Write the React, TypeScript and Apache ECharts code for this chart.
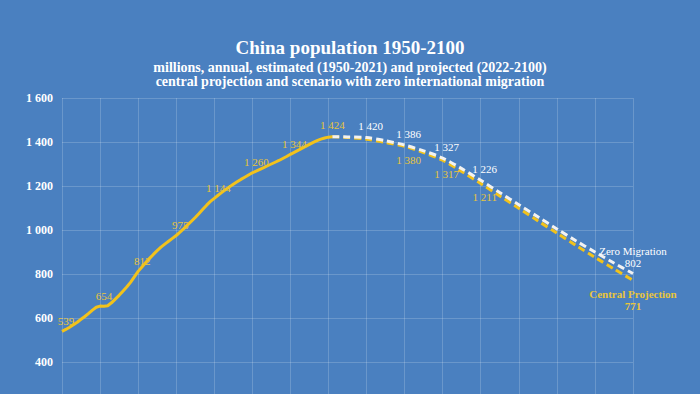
import React, { useEffect, useRef } from "react";
import * as echarts from "echarts";

const histYears: number[] = [
  1950, 1951, 1952, 1953, 1954, 1955, 1956, 1957, 1958, 1959,
  1960, 1961, 1962, 1963, 1964, 1965, 1966, 1967, 1968, 1969,
  1970, 1971, 1972, 1973, 1974, 1975, 1976, 1977, 1978, 1979,
  1980, 1981, 1982, 1983, 1984, 1985, 1986, 1987, 1988, 1989,
  1990, 1991, 1992, 1993, 1994, 1995, 1996, 1997, 1998, 1999,
  2000, 2001, 2002, 2003, 2004, 2005, 2006, 2007, 2008, 2009,
  2010, 2011, 2012, 2013, 2014, 2015, 2016, 2017, 2018, 2019,
  2020, 2021,
];
const histValues: number[] = [
  539, 548, 558, 569, 581, 594, 607, 621, 636, 649,
  654, 653, 656, 669, 686, 703, 722, 741, 762, 787,
  812, 832, 852, 871, 889, 906, 922, 936, 949, 962,
  975, 990, 1006, 1023, 1040, 1057, 1075, 1094, 1113, 1130,
  1144, 1158, 1171, 1184, 1196, 1208, 1219, 1230, 1240, 1250,
  1260, 1268, 1276, 1284, 1292, 1300, 1308, 1316, 1325, 1334,
  1344, 1353, 1362, 1371, 1380, 1389, 1398, 1406, 1413, 1418,
  1422, 1424,
];
const histLabelYears: number[] = [1950, 1960, 1970, 1980, 1990, 2000, 2010, 2021];

const projYears: number[] = [
  2021, 2025, 2030, 2035, 2040, 2045, 2050, 2055, 2060, 2065,
  2070, 2075, 2080, 2085, 2090, 2095, 2100,
];
const centralValues: number[] = [
  1424, 1421, 1413, 1398, 1380, 1352, 1317, 1266, 1211, 1155,
  1099, 1042, 986, 930, 876, 823, 771,
];
const zeroValues: number[] = [
  1424, 1423, 1420, 1406, 1386, 1360, 1327, 1279, 1226, 1170,
  1115, 1060, 1005, 951, 900, 850, 802,
];
const centralLabelYears: number[] = [2040, 2050, 2060];
const zeroLabelYears: number[] = [2030, 2040, 2050, 2060];

const yTicks = { min: 200, max: 1600, interval: 200 };

const BG = "#4a80c0";
const GOLD = "#f2c21b";
const GOLD_TEXT = "#e8c53c";
const FONT = "'Liberation Serif', 'DejaVu Serif', serif";

function fmt(v: number): string {
  if (v >= 1000) {
    return `${Math.floor(v / 1000)} ${String(v % 1000).padStart(3, "0")}`;
  }
  return String(v);
}

const hidden = {
  symbol: "circle",
  symbolSize: 0.1,
  itemStyle: { color: "rgba(0,0,0,0)", borderWidth: 0 },
};

export default function App() {
  const ref = useRef<HTMLDivElement>(null);

  useEffect(() => {
    if (!ref.current) return;
    const chart = echarts.init(ref.current, undefined, { renderer: "svg" });

    const histData = histYears.map((y, i) => {
      const v = histValues[i];
      if (histLabelYears.includes(y)) {
        return {
          value: [y, v],
          ...hidden,
          label: {
            show: true,
            position: "top",
            offset: y === 2021 ? [0, -1] : [4, 0],
            formatter: fmt(v),
            color: GOLD_TEXT,
            fontSize: 11,
            fontFamily: FONT,
          },
        };
      }
      return { value: [y, v], symbol: "none" };
    });

    const centralData = projYears.map((y, i) => {
      const v = centralValues[i];
      if (centralLabelYears.includes(y)) {
        return {
          value: [y, v],
          ...hidden,
          label: {
            show: true,
            position: "bottom",
            offset: [4, 3],
            formatter: fmt(v),
            color: GOLD_TEXT,
            fontSize: 11,
            fontFamily: FONT,
          },
        };
      }
      if (y === 2100) {
        return {
          value: [y, v],
          ...hidden,
          label: {
            show: true,
            position: "bottom",
            distance: 8,
            formatter: `Central Projection\n${fmt(v)}`,
            color: GOLD_TEXT,
            fontSize: 11,
            fontWeight: "bold",
            lineHeight: 12,
            fontFamily: FONT,
          },
        };
      }
      return { value: [y, v], symbol: "none" };
    });

    const zeroData = projYears.map((y, i) => {
      const v = zeroValues[i];
      if (zeroLabelYears.includes(y)) {
        return {
          value: [y, v],
          ...hidden,
          label: {
            show: true,
            position: "top",
            offset: [4, -1],
            formatter: fmt(v),
            color: "#ffffff",
            fontSize: 11,
            fontFamily: FONT,
          },
        };
      }
      if (y === 2100) {
        return {
          value: [y, v],
          ...hidden,
          label: {
            show: true,
            position: "top",
            distance: 5,
            formatter: `Zero Migration\n${fmt(v)}`,
            color: "#ffffff",
            fontSize: 11,
            lineHeight: 12,
            fontFamily: FONT,
          },
        };
      }
      return { value: [y, v], symbol: "none" };
    });

    chart.setOption({
      animation: false,
      backgroundColor: BG,
      textStyle: { fontFamily: FONT },
      title: [
        {
          text: "China population 1950-2100",
          left: "center",
          top: 33,
          textStyle: {
            color: "#ffffff",
            fontSize: 19,
            fontWeight: "bold",
            fontFamily: FONT,
          },
        },
        {
          text:
            "millions, annual, estimated (1950-2021) and projected (2022-2100)\ncentral projection and scenario with zero international migration",
          left: "center",
          top: 55,
          textStyle: {
            color: "#ffffff",
            fontSize: 14,
            fontWeight: "bold",
            lineHeight: 14,
            fontFamily: FONT,
          },
        },
      ],
      grid: {
        left: 62,
        right: 67,
        top: 98,
        height: 308,
        outerBoundsMode: "none",
        containLabel: false,
      },
      xAxis: {
        type: "value",
        min: 1950,
        max: 2100,
        interval: 10,
        axisLine: { show: false },
        axisTick: { show: false },
        axisLabel: { show: false },
        splitLine: { show: true, lineStyle: { color: "rgba(255,255,255,0.18)", width: 1 } },
      },
      yAxis: {
        type: "value",
        min: yTicks.min,
        max: yTicks.max,
        interval: yTicks.interval,
        axisLine: { show: false },
        axisTick: { show: false },
        axisLabel: {
          color: "#ffffff",
          fontSize: 12,
          fontWeight: "bold",
          fontFamily: FONT,
          margin: 9,
          formatter: (v: number) => (v < 400 ? "" : fmt(v)),
        },
        splitLine: { show: true, lineStyle: { color: "rgba(255,255,255,0.18)", width: 1 } },
      },
      series: [
        {
          name: "Central Projection",
          type: "line",
          data: centralData,
          showSymbol: true,
          smooth: 0.3,
          lineStyle: { color: GOLD, width: 3, type: [7, 4] },
          z: 2,
        },
        {
          name: "Zero Migration",
          type: "line",
          data: zeroData,
          showSymbol: true,
          smooth: 0.3,
          lineStyle: { color: "#f2f2f2", width: 3, type: [7, 4] },
          z: 3,
        },
        {
          name: "Estimated",
          type: "line",
          data: histData,
          showSymbol: true,
          lineStyle: { color: GOLD, width: 3 },
          z: 4,
        },
      ],
    });

    return () => chart.dispose();
  }, []);

  return (
    <div
      ref={ref}
      style={{ position: "fixed", left: 0, top: 0, width: 700, height: 394 }}
    />
  );
}
